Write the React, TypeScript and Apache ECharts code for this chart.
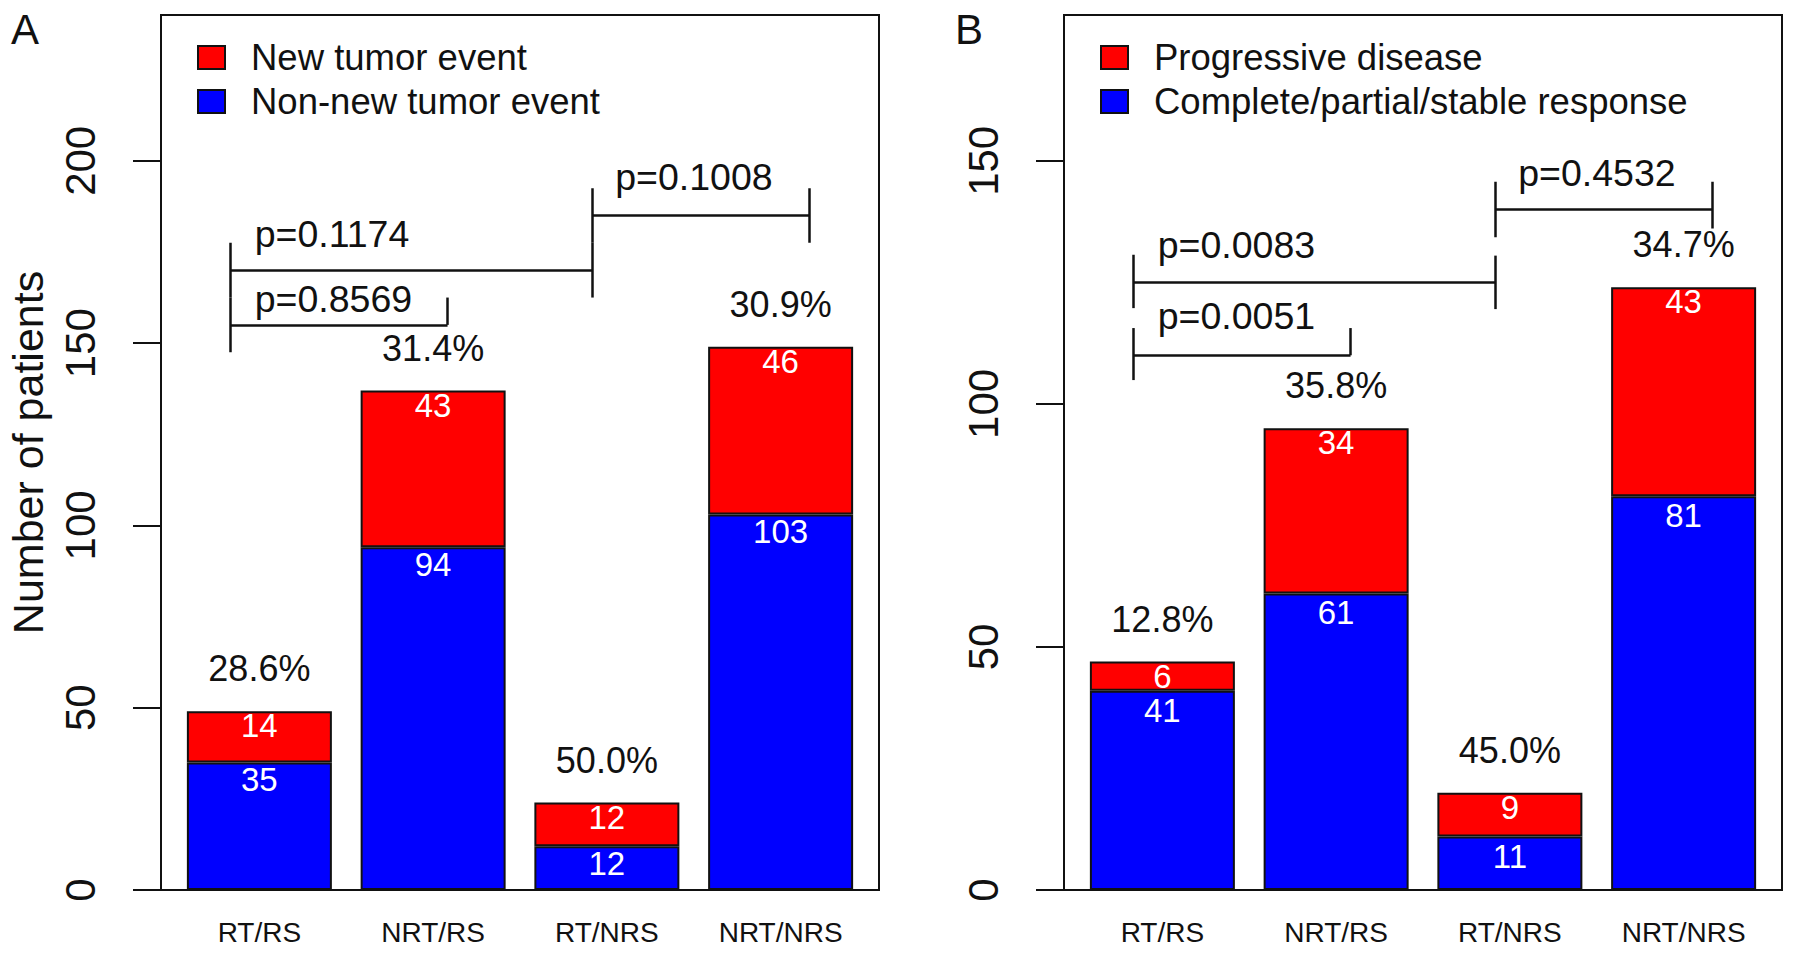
import React, { useEffect, useRef } from "react";
import * as echarts from "echarts";

const categories = ["RT/RS", "NRT/RS", "RT/NRS", "NRT/NRS"];

// Panel A
const newTumor = [14, 43, 12, 46];
const nonNewTumor = [35, 94, 12, 103];
// Panel B
const progressive = [6, 34, 9, 43];
const responders = [41, 61, 11, 81];

const yTicksA = [0, 50, 100, 150, 200];
const yTicksB = [0, 50, 100, 150];
const yMaxA = 240;
const yMaxB = 180;

// brackets: x positions in category-index units, y in data units
const bracketsA = [
  { x1: -0.167, x2: 1.083, y: 155, left: [147.5, 162.5], right: [155, 162.5], p: "p=0.8569", tx: -0.03, ty: 162 },
  { x1: -0.167, x2: 1.917, y: 170, left: [162.5, 177.5], right: [162.5, 177.5], p: "p=0.1174", tx: -0.03, ty: 180 },
  { x1: 1.917, x2: 3.167, y: 185, left: [177.5, 192.5], right: [177.5, 192.5], p: "p=0.1008", tx: 2.045, ty: 195.5 },
];
const bracketsB = [
  { x1: -0.167, x2: 1.083, y: 110, left: [104.9, 115.6], right: [110, 115.6], p: "p=0.0051", tx: -0.03, ty: 118 },
  { x1: -0.167, x2: 1.917, y: 125, left: [119.7, 130.7], right: [119.5, 130.5], p: "p=0.0083", tx: -0.03, ty: 132.7 },
  { x1: 1.917, x2: 3.167, y: 140, left: [134.3, 145.7], right: [136.1, 145.7], p: "p=0.4532", tx: 2.045, ty: 147.5 },
];

const FONT = "Liberation Sans, Arial, Helvetica, sans-serif";
const TXT = "#111";
const RED = "#ff0000";
const BLUE = "#0000ff";

function buildPanel(
  idx: number,
  top: number[],
  bottom: number[],
  names: [string, string],
  brackets: typeof bracketsA,
  blueDist: number
) {
  const totals = top.map((v, i) => v + bottom[i]);
  const pct = top.map((v, i) => ((v / totals[i]) * 100).toFixed(1) + "%");
  const segs: any[] = [];
  brackets.forEach((b) => {
    segs.push({ coords: [[b.x1, b.y], [b.x2, b.y]] });
    segs.push({ coords: [[b.x1, b.left[0]], [b.x1, b.left[1]]] });
    segs.push({ coords: [[b.x2, b.right[0]], [b.x2, b.right[1]]] });
  });
  const border = { borderColor: "#111", borderWidth: 2 };
  const textLabel = { color: TXT, fontFamily: FONT, textBorderWidth: 0, opacity: 1 };
  return [
    {
      type: "bar",
      name: names[1],
      stack: "s" + idx,
      xAxisIndex: idx,
      yAxisIndex: idx,
      data: bottom,
      barWidth: 145,
      itemStyle: { color: BLUE, ...border },
      label: {
        show: true,
        position: "insideTop",
        distance: blueDist,
        color: "#fff",
        fontSize: 33,
        fontFamily: FONT,
      },
      silent: true,
    },
    {
      type: "bar",
      name: names[0],
      stack: "s" + idx,
      xAxisIndex: idx,
      yAxisIndex: idx,
      data: top,
      barWidth: 145,
      itemStyle: { color: RED, ...border },
      label: {
        show: true,
        position: "insideTop",
        distance: -2,
        color: "#fff",
        fontSize: 33,
        fontFamily: FONT,
      },
      silent: true,
    },
    {
      type: "scatter",
      xAxisIndex: idx,
      yAxisIndex: idx,
      data: totals,
      symbol: "circle",
      symbolSize: 1,
      itemStyle: { color: "rgba(0,0,0,0)" },
      label: {
        show: true,
        position: "top",
        distance: 24,
        formatter: (p: any) => pct[p.dataIndex],
        fontSize: 36,
        ...textLabel,
      },
      silent: true,
    },
    {
      type: "lines",
      coordinateSystem: "cartesian2d",
      xAxisIndex: idx + 2,
      yAxisIndex: idx,
      data: segs,
      lineStyle: { color: TXT, width: 2.5, opacity: 1 },
      silent: true,
    },
    {
      type: "scatter",
      xAxisIndex: idx + 2,
      yAxisIndex: idx,
      data: brackets.map((b) => [b.tx, b.ty]),
      symbol: "circle",
      symbolSize: 1,
      itemStyle: { color: "rgba(0,0,0,0)" },
      label: {
        show: true,
        position: "right",
        distance: 0,
        formatter: (p: any) => brackets[p.dataIndex].p,
        fontSize: 37.5,
        ...textLabel,
      },
      silent: true,
    },
  ];
}

export default function App() {
  const ref = useRef<HTMLDivElement>(null);
  useEffect(() => {
    if (!ref.current) return;
    const chart = echarts.init(ref.current, null, { renderer: "svg" });
    const boxTop = 15;
    const boxH = 875;
    const boxW = 718;
    const boxLeft = [161, 1064];
    const inset = 11.5;

    const xCat = (gi: number) => ({
      type: "category",
      gridIndex: gi,
      data: categories,
      axisLine: { show: false },
      axisTick: { show: false },
      axisLabel: { fontSize: 28, color: TXT, margin: 28, fontFamily: FONT },
    });
    const xVal = (gi: number) => ({
      type: "value",
      gridIndex: gi,
      min: -0.5,
      max: 3.5,
      show: false,
      axisLine: { onZero: false },
    });
    const yHidden = (gi: number, max: number) => ({
      type: "value",
      gridIndex: gi,
      min: 0,
      max,
      show: false,
      axisLine: { onZero: false },
    });
    const yAx = (gi: number, max: number, ticks: number[], name: string) => ({
      type: "value",
      gridIndex: gi,
      min: 0,
      max,
      axisLine: { show: false, onZero: false },
      splitLine: { show: false },
      axisTick: {
        show: true,
        length: 28,
        customValues: ticks,
        lineStyle: { color: TXT, width: 2 },
      },
      axisLabel: {
        rotate: 90,
        margin: 60,
        customValues: ticks,
        fontSize: 42,
        color: TXT,
        fontFamily: FONT,
      },
      name,
      nameLocation: "middle",
      nameRotate: 90,
      nameGap: 112,
      nameTextStyle: { fontSize: 43, color: TXT, fontFamily: FONT },
    });
    const legend = (left: number, data: string[]) => ({
      left,
      top: 34,
      orient: "vertical",
      data,
      icon: "rect",
      itemWidth: 27,
      itemHeight: 23,
      itemGap: 7,
      selectedMode: false,
      textStyle: { fontSize: 36.5, color: TXT, fontFamily: FONT, padding: [0, 0, 0, 21] },
    });

    chart.setOption({
      animation: false,
      grid: [
        { left: boxLeft[0] + inset, top: boxTop, width: boxW - 2 * inset, height: boxH },
        { left: boxLeft[1] + inset, top: boxTop, width: boxW - 2 * inset, height: boxH },
        { left: boxLeft[0], top: boxTop, width: boxW, height: boxH },
        { left: boxLeft[1], top: boxTop, width: boxW, height: boxH },
      ],
      xAxis: [xCat(0), xCat(1), xVal(0), xVal(1), xVal(2), xVal(3)],
      yAxis: [
        yHidden(0, yMaxA),
        yHidden(1, yMaxB),
        yAx(2, yMaxA, yTicksA, "Number of patients"),
        yAx(3, yMaxB, yTicksB, ""),
      ],
      legend: [
        legend(192, ["New tumor event", "Non-new tumor event"]),
        legend(1095, ["Progressive disease", "Complete/partial/stable response"]),
      ],
      graphic: [
        ...boxLeft.map((l) => ({
          type: "rect",
          shape: { x: l, y: boxTop, width: boxW, height: boxH },
          style: { fill: "none", stroke: TXT, lineWidth: 2 },
          silent: true,
          z: 10,
        })),
        {
          type: "text",
          x: 25,
          y: 29,
          style: { text: "A", fontSize: 42, fill: TXT, fontFamily: FONT, align: "center", verticalAlign: "middle" },
        },
        {
          type: "text",
          x: 969,
          y: 29,
          style: { text: "B", fontSize: 42, fill: TXT, fontFamily: FONT, align: "center", verticalAlign: "middle" },
        },
      ],
      series: [
        ...buildPanel(0, newTumor, nonNewTumor, ["New tumor event", "Non-new tumor event"], bracketsA, 1),
        ...buildPanel(1, progressive, responders, ["Progressive disease", "Complete/partial/stable response"], bracketsB, 3),
      ],
    });
    return () => chart.dispose();
  }, []);
  return (
    <div
      ref={ref}
      style={{ position: "fixed", left: 0, top: 0, width: 1795, height: 954, background: "#fff" }}
    />
  );
}
